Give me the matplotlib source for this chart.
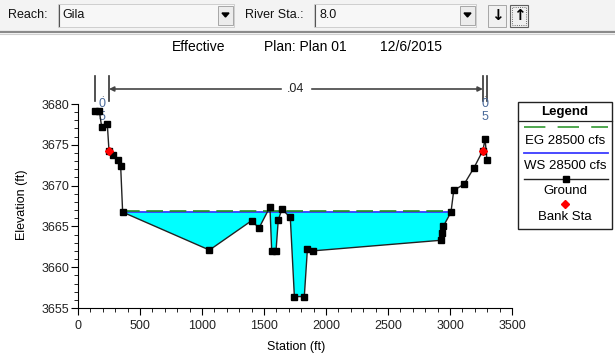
import numpy as np
import matplotlib
matplotlib.use("Agg")
import matplotlib.pyplot as plt
from matplotlib.patches import Rectangle, Polygon
from matplotlib.lines import Line2D
from matplotlib import transforms
from matplotlib.ticker import MultipleLocator

plt.rcParams['font.family'] = ['Liberation Sans', 'DejaVu Sans']

# --- cross section data (River Sta 8.0, reach Gila) ---
station = [137, 172, 191, 236, 250, 285, 325, 344, 360, 1060, 1400, 1460,
           1548, 1562, 1597, 1615, 1645, 1712, 1745, 1825, 1850, 1893,
           2927, 2938, 2946, 3008, 3030, 3115, 3194, 3265, 3283, 3298]
elevation = [3679.1, 3679.1, 3677.2, 3677.6, 3674.3, 3673.8, 3673.1, 3672.4,
             3666.75, 3662.1, 3665.7, 3664.8, 3667.4, 3662.0, 3662.0, 3665.8,
             3667.1, 3666.1, 3656.4, 3656.4, 3662.2, 3662.0, 3663.3, 3664.2,
             3665.0, 3666.75, 3669.4, 3670.2, 3672.2, 3674.3, 3675.7, 3673.1]
bank_idx = [4, 29]
ws_elev = 3666.8
eg_elev = 3666.85
n_values = ['.05', '.04', '.05']
flow_label = '28500 cfs'

sta = np.array(station, dtype=float)
elev = np.array(elevation, dtype=float)

W, H = 615, 360
fig = plt.figure(figsize=(W / 100, H / 100), dpi=100)
fig.patch.set_facecolor('white')


def fx(px):
    return px / W


def fy(py):
    return 1 - py / H


def rect(x0, y0, x1, y1, **kw):
    fig.add_artist(Rectangle((fx(x0), fy(y1)), fx(x1 - x0), (y1 - y0) / H,
                             transform=fig.transFigure, **kw))


def hline(x0, x1, y, **kw):
    fig.add_artist(Line2D([fx(x0), fx(x1)], [fy(y), fy(y)],
                          transform=fig.transFigure, **kw))


def vline(x, y0, y1, **kw):
    fig.add_artist(Line2D([fx(x), fx(x)], [fy(y0), fy(y1)],
                          transform=fig.transFigure, **kw))


# --- toolbar strip ---
rect(0, 0, W, 31, facecolor='#f3f3f3', edgecolor='none')
hline(0, W, 32, color='#8a8a8a', lw=1.6)
hline(0, W, 34, color='#d0d0d0', lw=0.8)
fig.text(fx(8), fy(15), 'Reach:', fontsize=9, va='center', color='#111111')
rect(58, 4, 234, 27, facecolor='#f7f7f7', edgecolor='#c8c8c8', lw=0.6)
vline(59, 5, 26, color='#555555', lw=0.8)
fig.text(fx(62), fy(15), 'Gila', fontsize=9, va='center', color='#111111')
fig.text(fx(245), fy(15), 'River Sta.:', fontsize=9, va='center', color='#111111')
rect(314, 4, 476, 27, facecolor='#f7f7f7', edgecolor='#c8c8c8', lw=0.6)
vline(315, 5, 26, color='#555555', lw=0.8)
fig.text(fx(319), fy(15), '8.0', fontsize=9, va='center', color='#111111')
for bx in (218, 460):
    rect(bx, 6, bx + 15, 25, facecolor='#ececec', edgecolor='#9a9a9a', lw=0.6)
    fig.add_artist(Polygon([[fx(bx + 4), fy(13)], [fx(bx + 11), fy(13)],
                            [fx(bx + 7.5), fy(17)]], closed=True,
                           transform=fig.transFigure, color='black'))
rect(488, 5, 506, 27, facecolor='#f0f0f0', edgecolor='#9a9a9a', lw=0.6)
fig.text(fx(497), fy(16), '\u2193', fontsize=11, fontweight='bold',
         ha='center', va='center', family='DejaVu Sans')
rect(510, 5, 528, 27, facecolor='#f0f0f0', edgecolor='#606060', lw=0.8)
rect(512, 7, 526, 25, facecolor='none', edgecolor='#444444', lw=0.6, ls=':')
fig.text(fx(519), fy(16), '\u2191', fontsize=11, fontweight='bold',
         ha='center', va='center', family='DejaVu Sans')

# --- title ---
fig.text(fx(172), fy(47), 'Effective', fontsize=10, va='center')
fig.text(fx(264), fy(47), 'Plan: Plan 01', fontsize=10, va='center')
fig.text(fx(380), fy(47), '12/6/2015', fontsize=10, va='center')

# --- main axes ---
ax = fig.add_axes([fx(78), fy(308), fx(512 - 78), (308 - 104) / H])
ax.set_xlim(0, 3500)
ax.set_ylim(3655, 3680)

# water surface extent between the ground crossings
wet = np.where(elev <= ws_elev)[0]
i, j = wet[0], wet[-1]
x_left = sta[i - 1] + (ws_elev - elev[i - 1]) / (elev[i] - elev[i - 1]) * (sta[i] - sta[i - 1])
x_right = sta[j] + (ws_elev - elev[j]) / (elev[j + 1] - elev[j]) * (sta[j + 1] - sta[j])

ax.fill_between(sta, elev, ws_elev, where=elev < ws_elev, interpolate=True,
                color='#00ffff', lw=0, zorder=1)
ax.plot([x_left, x_right], [ws_elev, ws_elev], color='#3c3cff', lw=1.3, zorder=2)
ax.plot([x_left, x_right], [eg_elev, eg_elev], color='#1f8f1f', lw=1.2,
        dashes=(10, 4), zorder=3)
ax.plot(sta, elev, color='#222222', lw=1.0, marker='s', ms=4.5,
        mfc='black', mec='black', zorder=4)
ax.plot(sta[bank_idx], elev[bank_idx], ls='none', marker='D', ms=4.5,
        color='red', zorder=5)

for side in ('top', 'right'):
    ax.spines[side].set_visible(False)
ax.xaxis.set_major_locator(MultipleLocator(500))
ax.xaxis.set_minor_locator(MultipleLocator(100))
ax.yaxis.set_major_locator(MultipleLocator(5))
ax.yaxis.set_minor_locator(MultipleLocator(1))
ax.tick_params(which='major', length=5, width=0.8, labelsize=9,
               labelcolor='#222222', direction='out')
ax.tick_params(which='minor', length=3, width=0.6, direction='out')
ax.tick_params(axis='y', pad=1)

fig.text(fx(22), fy(205), 'Elevation (ft)', fontsize=9, rotation=90,
         ha='center', va='center')
fig.text(fx(296), fy(347), 'Station (ft)', fontsize=9, ha='center', va='center')

# --- Manning's n regions above the section ---
top = transforms.blended_transform_factory(ax.transData, fig.transFigure)
lb, rb = sta[bank_idx[0]], sta[bank_idx[1]]
for xs in (sta[0], lb, rb, sta[-1]):
    ax.plot([xs, xs], [fy(76), fy(101)], transform=top, color='#333333',
            lw=1.2, clip_on=False)
ax.annotate('', xy=(lb, fy(89)), xytext=(rb, fy(89)), xycoords=top,
            textcoords=top,
            arrowprops=dict(arrowstyle='<|-|>', color='#444444', lw=1.2,
                            mutation_scale=7, shrinkA=0, shrinkB=0))
ax.text((lb + rb) / 2, fy(89), n_values[1], transform=top, fontsize=9,
        ha='center', va='center', backgroundcolor='white', color='#222222')
for xs, nv in (((sta[0] + lb) / 2, n_values[0]), ((rb + sta[-1]) / 2, n_values[2])):
    ax.text(xs, fy(94), nv[0], transform=top, fontsize=7, ha='center',
            va='center', color='#555555')
    ax.text(xs, fy(104), nv[1], transform=top, fontsize=9, ha='center',
            va='center', color='#4a6a9a')
    ax.text(xs, fy(117), nv[2], transform=top, fontsize=9, ha='center',
            va='center', color='#4a6a9a')

# --- legend panel ---
rect(518, 102, 612, 229, facecolor='white', edgecolor='#222222', lw=1.0)
hline(518, 612, 121, color='#222222', lw=0.9)
cx = 565
fig.text(fx(cx), fy(111.5), 'Legend', fontsize=9.5, fontweight='bold',
         ha='center', va='center')
hline(524, 608, 127, color='#1f8f1f', lw=1.1, dashes=(14, 8))
fig.text(fx(cx), fy(141), 'EG ' + flow_label, fontsize=9.5, ha='center', va='center')
hline(524, 608, 153, color='#3c3cff', lw=1.3)
fig.text(fx(cx), fy(166), 'WS ' + flow_label, fontsize=9.5, ha='center', va='center')
hline(524, 608, 179, color='#222222', lw=1.0)
fig.add_artist(Line2D([fx(cx + 1)], [fy(179)], marker='s', ms=4.5, color='black',
                      transform=fig.transFigure))
fig.text(fx(cx), fy(191), 'Ground', fontsize=9.5, ha='center', va='center')
fig.add_artist(Line2D([fx(cx)], [fy(204)], marker='D', ms=4.5, color='red',
                      transform=fig.transFigure))
fig.text(fx(cx), fy(217), 'Bank Sta', fontsize=9.5, ha='center', va='center')

fig.savefig('out.png', dpi=100)
